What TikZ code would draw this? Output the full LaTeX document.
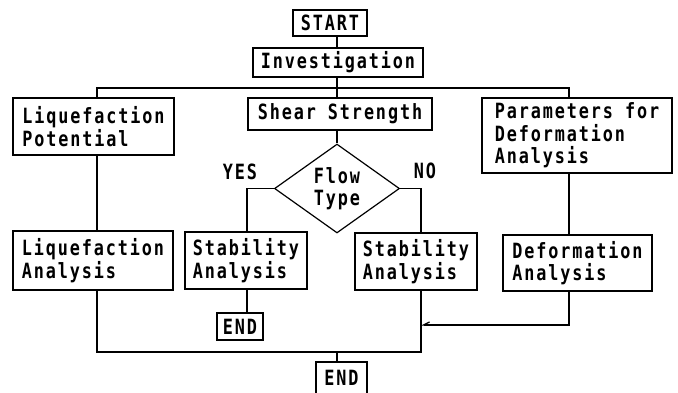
\documentclass[tikz,border=0pt]{standalone}
\usepackage{fontspec}
\usepackage{tikz}
\usetikzlibrary{shapes.geometric,arrows.meta}
\newfontfamily\chartfont[FakeStretch=0.8,LetterSpace=9]{DejaVu Sans Mono}

\begin{document}
\begin{tikzpicture}
        [x=1pt,y=-1pt,line width=1.2pt,
         every node/.style={font=\chartfont\bfseries\fontsize{21}{22.5}\selectfont,inner sep=0pt},
         box/.style={draw,rectangle,align=left},
         decision/.style={draw,diamond,align=center,minimum width=125pt,minimum height=83pt}]
        \useasboundingbox (0,0) rectangle (678,392);

        % column lines
        \coordinate (colL) at (97,0);
        \coordinate (colM) at (337,0);
        \coordinate (colR) at (569,0);
        \coordinate (colS1) at (247,0);
        \coordinate (colS2) at (421,0);
        \coordinate (bar) at (337,88);
        \coordinate (join) at (337,352);
        \coordinate (merge) at (421,325);

        \node[box,minimum width=74pt,minimum height=26pt] (start) at (330,23) {START};
        \node[box,minimum width=170pt,minimum height=29pt] (invest) at (338,62.5) {Investigation};
        \node[box,minimum width=161pt,minimum height=57pt] (liqpot) at (93.5,126.5) {Liquefaction\\Potential};
        \node[box,minimum width=184pt,minimum height=32pt] (shear) at (340,114) {Shear Strength};
        \node[box,minimum width=190pt,minimum height=75pt] (param) at (577,135.5) {Parameters for\\Deformation\\Analysis};
        \node[decision] (flow) at (337,188.5) {Flow\\Type};
        \node (yes) at (240,172) {YES};
        \node (no) at (425,171) {NO};
        \node[box,minimum width=160pt,minimum height=59pt] (liqana) at (93,260.5) {Liquefaction\\Analysis};
        \node[box,minimum width=122pt,minimum height=57pt] (stab1) at (246,260.5) {Stability\\Analysis};
        \node[box,minimum width=122pt,minimum height=57pt] (stab2) at (416,261.5) {Stability\\Analysis};
        \node[box,minimum width=149pt,minimum height=56pt] (defana) at (577.5,263) {Deformation\\Analysis};
        \node[box,minimum width=46pt,minimum height=27pt] (end1) at (240,326.5) {END};
        \node[box,minimum width=51pt,minimum height=32pt] (end2) at (341.5,378) {END};

        \draw (start.south -| colM) -- (invest.north -| colM);
        \draw (invest.south -| colM) -- (bar);
        \draw (liqpot.north -| colL) |- (bar) -| (param.north -| colR);
        \draw (bar) -- (shear.north -| colM);
        \draw (shear.south -| colM) -- (flow.north);
        \draw (flow.west) -| (stab1.north -| colS1);
        \draw (flow.east) -| (stab2.north -| colS2);
        \draw (liqpot.south -| colL) -- (liqana.north -| colL);
        \draw (param.south -| colR) -- (defana.north -| colR);
        \draw (stab1.south -| colS1) -- (end1.north -| colS1);
        \draw (liqana.south -| colL) |- (join) -| (stab2.south -| colS2);
        \draw (join) -- (end2.north -| colM);
        \draw [-{Straight Barb[harpoon,swap,length=6pt,width=6pt]}] (defana.south -| colR) |- (merge);

    \end{tikzpicture}
\end{document}
